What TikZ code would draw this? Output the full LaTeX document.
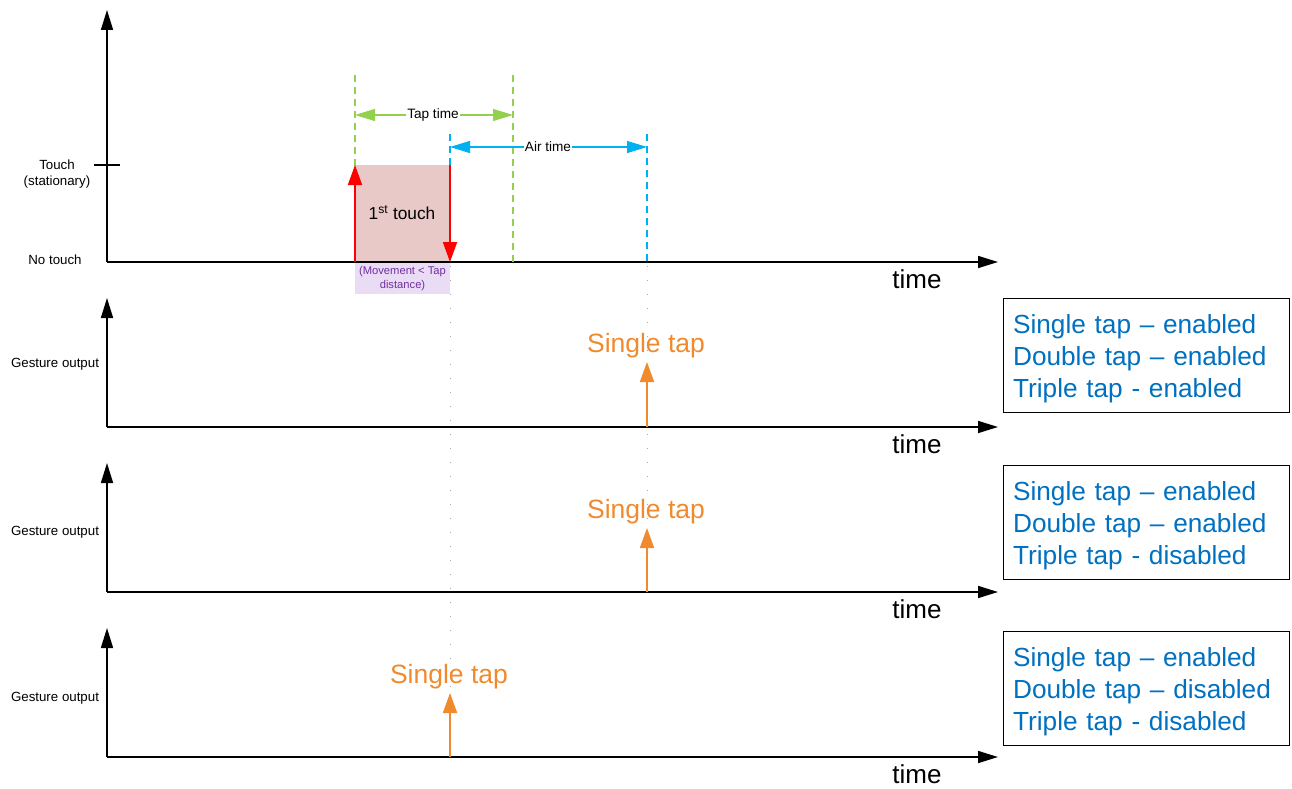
\documentclass[tikz,border=0pt]{standalone}
\usepackage{fontspec}
\setmainfont{Liberation Sans}
\usetikzlibrary{arrows.meta}
\definecolor{tapgreen}{HTML}{92D050}
\definecolor{airblue}{HTML}{00B0F0}
\definecolor{touchred}{HTML}{FF0000}
\definecolor{touchfill}{HTML}{E8C9C8}
\definecolor{movefill}{HTML}{EADCF4}
\definecolor{movetext}{HTML}{7030A0}
\definecolor{taporange}{HTML}{F08A2C}
\definecolor{boxblue}{HTML}{0070C0}
\tikzset{
  axis/.style={line width=1.6pt, -{Triangle[length=20pt,width=12pt]}},
  axislabel/.style={font=\fontsize{13.3}{16}\selectfont, align=center},
  timelabel/.style={font=\fontsize{26}{28}\selectfont, anchor=north},
  guide/.style={dashed, line width=1.2pt, dash pattern=on 7pt off 5pt},
  dimarrow/.style={line width=1.2pt, {Triangle[length=20pt,width=12pt]}-{Triangle[length=20pt,width=12pt]}},
  redarrow/.style={touchred, line width=1.8pt, -{Triangle[length=20pt,width=14pt]}},
  orangearrow/.style={taporange, line width=1.8pt, -{Triangle[length=20pt,width=14pt]}},
  taplabel/.style={taporange, font=\fontsize{26.5}{28}\selectfont},
  statusbox/.style={draw, line width=1.2pt, text=boxblue, font=\fontsize{26.2}{32}\selectfont, align=left, minimum width=286pt, minimum height=114pt, text width=267pt, inner sep=9pt, text height=25pt},
  dotline/.style={gray!70, line width=1pt, dash pattern=on 1pt off 13pt},
}
\begin{document}
\begin{tikzpicture}[x=1pt,y=-1pt]
\useasboundingbox (0,0) rectangle (1292,789);
% top panel
\fill[touchfill] (355,165) rectangle (450,262);
\fill[movefill] (355,263) rectangle (450,294);
\node[movetext, font=\fontsize{11.2}{14}\selectfont, align=center] (move) at (402.5,278.5) {(Movement {<} Tap\\distance)};
\node[font=\fontsize{17.3}{19}\selectfont] (first) at (402,213) {1\textsuperscript{st} touch};
\coordinate (o1) at (107,262);
\coordinate (y1) at (107,10);
\coordinate (x1) at (998,262);
\draw[axis] (o1) -- (y1);
\draw[axis] (o1) -- (x1);
\coordinate (tk1) at (94,165);
\coordinate (tk2) at (120,165);
\draw[line width=1.2pt] (tk1) -- (tk2);
\node[axislabel] (touch) at (57,174) {Touch\\(stationary)};
\node[axislabel] (notouch) at (55,260) {No touch};
\node[timelabel] (t1) at (917,266) {time};
% guides
\coordinate (g1t) at (355,75); \coordinate (g1b) at (355,262);
\coordinate (g2t) at (513,75); \coordinate (g2b) at (513,262);
\draw[guide, tapgreen] (g1t) -- (g1b);
\draw[guide, tapgreen] (g2t) -- (g2b);
\coordinate (b1t) at (450,134); \coordinate (b1b) at (450,165);
\coordinate (b2t) at (647,134); \coordinate (b2b) at (647,262);
\draw[guide, airblue] (b1t) -- (b1b);
\draw[guide, airblue] (b2t) -- (b2b);
\coordinate (ta) at (355,115); \coordinate (tb) at (513,115);
\draw[dimarrow, tapgreen] (ta) -- (tb);
\node[fill=white, inner sep=1pt, font=\fontsize{13.6}{15}\selectfont] (taptime) at (433,115) {Tap time};
\coordinate (aa) at (450,147); \coordinate (ab) at (647,147);
\draw[dimarrow, airblue] (aa) -- (ab);
\node[fill=white, inner sep=1pt, font=\fontsize{13.6}{15}\selectfont] (airtime) at (548,147) {Air time};
% red arrows
\coordinate (r1a) at (355,262); \coordinate (r1b) at (355,165);
\coordinate (r2a) at (450,165); \coordinate (r2b) at (450,262);
\draw[redarrow] (r1a) -- (r1b);
\draw[redarrow] (r2a) -- (r2b);
% dotted lines
\coordinate (d1a) at (450,266); \coordinate (d1b) at (450,690);
\coordinate (d2a) at (647,266); \coordinate (d2b) at (647,592);
\draw[dotline] (d1a) -- (d1b);
\draw[dotline] (d2a) -- (d2b);
% panel 2
\coordinate (o2) at (107,427); \coordinate (y2) at (107,298); \coordinate (x2) at (998,427);
\draw[axis] (o2) -- (y2);
\draw[axis] (o2) -- (x2);
\node[axislabel] (g2) at (55,364) {Gesture output};
\node[timelabel] (t2) at (917,431) {time};
\coordinate (s2a) at (647,427); \coordinate (s2b) at (647,362);
\draw[orangearrow] (s2a) -- (s2b);
\node[taplabel] (st2) at (646,346) {Single tap};
\node[statusbox, anchor=north west] (box2) at (1003,298) {Single tap -- enabled\\Double tap -- enabled\\Triple tap - enabled};
% panel 3
\coordinate (o3) at (107,592); \coordinate (y3) at (107,463); \coordinate (x3) at (998,592);
\draw[axis] (o3) -- (y3);
\draw[axis] (o3) -- (x3);
\node[axislabel] (g3) at (55,532) {Gesture output};
\node[timelabel] (t3) at (917,596) {time};
\coordinate (s3a) at (647,592); \coordinate (s3b) at (647,528);
\draw[orangearrow] (s3a) -- (s3b);
\node[taplabel] (st3) at (646,512) {Single tap};
\node[statusbox, anchor=north west] (box3) at (1003,465) {Single tap -- enabled\\Double tap -- enabled\\Triple tap - disabled};
% panel 4
\coordinate (o4) at (107,757); \coordinate (y4) at (107,628); \coordinate (x4) at (998,757);
\draw[axis] (o4) -- (y4);
\draw[axis] (o4) -- (x4);
\node[axislabel] (g4) at (55,698) {Gesture output};
\node[timelabel] (t4) at (917,761) {time};
\coordinate (s4a) at (450,757); \coordinate (s4b) at (450,693);
\draw[orangearrow] (s4a) -- (s4b);
\node[taplabel] (st4) at (449,677) {Single tap};
\node[statusbox, anchor=north west] (box4) at (1003,631) {Single tap -- enabled\\Double tap -- disabled\\Triple tap - disabled};
\end{tikzpicture}
\end{document}
